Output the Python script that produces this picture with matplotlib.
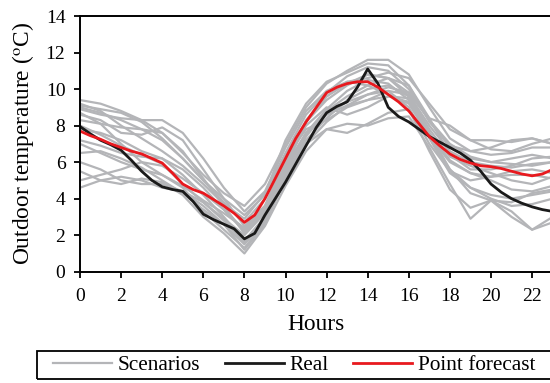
import matplotlib
matplotlib.use('Agg')
import matplotlib.pyplot as plt
from matplotlib.patches import Rectangle

plt.rcParams['font.family'] = ['Liberation Serif', 'DejaVu Serif']
plt.rcParams['mathtext.fontset'] = 'stix'

# hourly scenario values (h = 0..23)
hours = list(range(24))
scenarios = [
    [9.4, 9.2, 8.8, 8.3, 7.6, 6.5, 5.3, 4.3, 3.6, 4.8, 7.0, 9.0, 10.3, 11.0, 11.6, 11.6, 10.8, 9.0, 7.3, 6.6, 6.4, 6.5, 6.8, 6.8],
    [9.2, 8.8, 8.0, 7.3, 6.6, 5.8, 4.8, 3.7, 2.9, 4.3, 6.5, 8.6, 9.8, 10.7, 11.2, 11.0, 10.0, 8.3, 7.0, 6.3, 6.0, 5.9, 5.8, 6.0],
    [8.9, 8.6, 8.4, 8.3, 8.3, 7.6, 6.2, 4.6, 3.3, 4.4, 6.8, 8.8, 9.9, 10.4, 10.6, 10.9, 10.6, 9.2, 7.8, 7.2, 7.2, 7.1, 7.3, 7.0],
    [8.6, 8.3, 7.6, 7.5, 7.9, 7.2, 5.6, 4.0, 2.5, 3.6, 6.0, 8.3, 9.6, 10.3, 10.8, 10.6, 9.6, 7.8, 6.3, 5.8, 5.4, 5.0, 4.8, 5.2],
    [8.3, 8.1, 7.9, 7.8, 7.6, 6.6, 5.1, 3.6, 2.1, 3.3, 5.6, 7.5, 8.6, 9.3, 9.7, 10.1, 9.8, 8.3, 6.8, 6.2, 6.0, 6.2, 6.4, 6.2],
    [7.8, 7.6, 7.2, 6.6, 6.2, 5.3, 4.2, 3.0, 1.7, 3.0, 5.4, 7.6, 8.9, 9.9, 10.5, 10.3, 9.4, 7.6, 6.1, 5.4, 5.0, 4.5, 4.4, 4.7],
    [7.2, 6.9, 6.5, 6.3, 6.2, 5.6, 4.6, 3.4, 2.3, 3.4, 5.9, 8.0, 9.0, 8.6, 9.0, 9.6, 9.3, 7.4, 5.6, 4.6, 4.0, 3.6, 3.7, 4.0],
    [6.5, 6.6, 6.2, 5.7, 5.0, 4.3, 3.4, 2.6, 1.5, 2.8, 5.0, 7.0, 8.2, 9.1, 9.7, 9.9, 9.0, 7.0, 5.5, 5.0, 5.2, 5.5, 5.6, 5.4],
    [6.0, 5.6, 5.0, 4.8, 4.8, 4.4, 3.6, 2.6, 1.2, 2.6, 5.2, 7.4, 8.8, 9.6, 10.2, 10.6, 10.2, 8.4, 6.4, 5.6, 5.6, 5.8, 6.2, 6.3],
    [5.5, 5.0, 4.8, 5.1, 4.9, 4.2, 3.0, 2.1, 1.0, 2.5, 4.7, 6.6, 7.8, 7.6, 8.1, 8.7, 8.9, 6.6, 4.5, 3.5, 3.9, 3.0, 2.3, 2.7],
    [4.6, 5.0, 5.2, 5.0, 4.6, 4.4, 3.8, 2.8, 1.6, 2.9, 5.2, 7.0, 7.8, 8.1, 8.0, 8.4, 8.5, 6.8, 4.8, 2.9, 3.9, 3.3, 2.3, 3.0],
    [9.0, 8.7, 8.3, 7.8, 7.2, 6.2, 5.0, 3.8, 2.7, 4.0, 6.4, 8.2, 9.4, 10.2, 10.8, 10.6, 9.8, 8.4, 8.0, 7.2, 6.7, 6.6, 7.0, 7.3],
    [8.0, 7.5, 6.9, 6.4, 5.9, 4.8, 3.8, 2.9, 2.0, 3.2, 5.7, 8.2, 9.6, 10.4, 10.2, 9.7, 9.2, 7.4, 6.0, 5.4, 5.2, 5.3, 5.3, 5.1],
    [7.0, 6.5, 6.0, 5.6, 5.3, 4.7, 3.9, 3.2, 2.4, 3.6, 6.2, 7.8, 8.3, 9.0, 9.4, 9.9, 9.7, 8.0, 6.6, 6.0, 5.8, 5.7, 5.9, 6.0],
    [8.7, 8.1, 7.0, 6.0, 5.3, 4.6, 3.3, 2.3, 1.3, 2.7, 5.1, 7.2, 8.4, 9.4, 10.0, 10.2, 9.6, 7.3, 5.4, 4.6, 4.2, 4.0, 4.2, 4.4],
    [5.0, 5.3, 5.6, 6.0, 5.8, 5.1, 4.3, 3.4, 2.2, 3.5, 5.8, 7.6, 8.6, 9.1, 9.4, 9.6, 9.5, 7.6, 5.6, 4.3, 3.9, 3.8, 4.3, 4.5],
    [9.1, 8.9, 8.7, 8.2, 7.3, 6.2, 5.0, 4.0, 3.1, 4.2, 7.2, 9.2, 10.4, 10.9, 11.4, 11.3, 10.2, 8.2, 6.9, 6.6, 6.8, 7.2, 7.3, 7.0],
]

# half-hourly real and point forecast (h = 0, 0.5, ..., 23)
half_hours = [i * 0.5 for i in range(47)]
real = [7.95, 7.55, 7.2, 6.95, 6.65, 6.1, 5.5, 5.0, 4.65, 4.5, 4.4, 3.85, 3.15, 2.85, 2.6, 2.35,
        1.8, 2.1, 3.1, 4.0, 4.9, 5.9, 6.9, 7.9, 8.7, 9.05, 9.3, 10.1, 11.1, 10.3, 9.0, 8.5,
        8.2, 7.8, 7.4, 7.1, 6.8, 6.5, 6.1, 5.5, 4.8, 4.35, 4.0, 3.75, 3.55, 3.4, 3.3]
forecast = [7.7, 7.45, 7.25, 7.0, 6.8, 6.6, 6.45, 6.2, 5.95, 5.4, 4.8, 4.5, 4.3, 3.95, 3.6, 3.2,
            2.7, 3.1, 4.0, 5.1, 6.2, 7.3, 8.2, 9.0, 9.8, 10.1, 10.3, 10.4, 10.4, 10.1, 9.7, 9.3,
            8.8, 8.1, 7.4, 6.9, 6.45, 6.15, 5.95, 5.8, 5.75, 5.65, 5.5, 5.35, 5.25, 5.35, 5.6]

fig = plt.figure(figsize=(5.5, 3.83), dpi=100)
ax = fig.add_axes([80/550, 0.2906, 23*20.55/550, 0.6676])

for i, s in enumerate(scenarios):
    ax.plot(hours, s, color='#b4b5b8', lw=1.6, solid_joinstyle='round',
            label='Scenarios' if i == 0 else None)
ax.plot(half_hours, real, color='#1a1a1a', lw=2.0, solid_joinstyle='round', label='Real')
ax.plot(half_hours, forecast, color='#e8191e', lw=2.0, solid_joinstyle='round', label='Point forecast')

ax.set_xlim(0, 23)
ax.set_ylim(0, 14)
ax.set_xticks(range(0, 23, 2))
ax.set_yticks(range(0, 15, 2))
ax.tick_params(labelsize=14, length=4.5, width=1.3, direction='out')
ax.tick_params(axis='x', pad=7.5)
ax.tick_params(axis='y', pad=6)
for sp in ['left', 'bottom', 'top']:
    ax.spines[sp].set_linewidth(1.4)
ax.spines['right'].set_visible(False)

ax.set_xlabel('Hours', fontsize=16.8, labelpad=6)
ax.set_ylabel(r'Outdoor temperature ($^{\rm o}$C)', fontsize=16.8, labelpad=7)

# legend box drawn by hand, entries placed without frame
fig.patches.append(Rectangle((37/550, 4/383), 515/550, 28/383, transform=fig.transFigure,
                             fill=False, edgecolor='black', lw=1.3, zorder=5))
fig.legend(loc='center left', bbox_to_anchor=(53/550, 1 - 365/383), ncol=3, fontsize=15.3,
           frameon=False, handlelength=2.78, columnspacing=1.13, handletextpad=0.28,
           borderpad=0, borderaxespad=0)

plt.savefig('out.png', dpi=100)
plt.close()
